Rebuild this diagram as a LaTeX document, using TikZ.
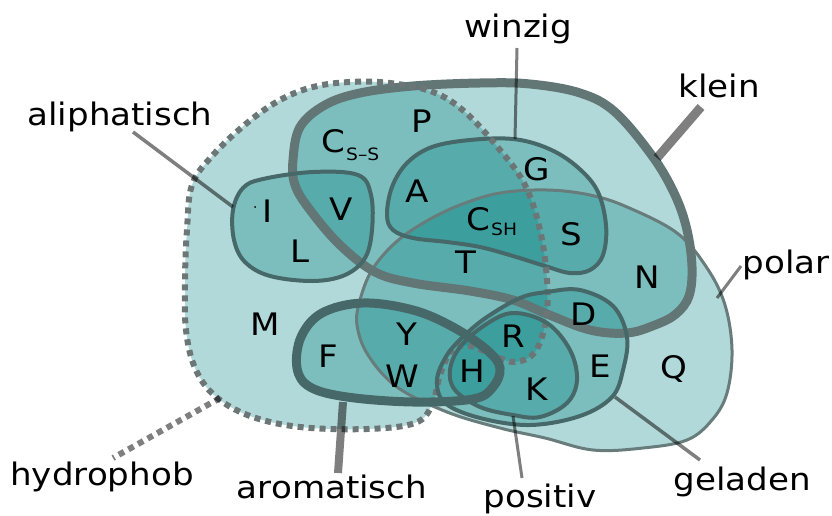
\documentclass[tikz,border=0pt]{standalone}
\usepackage{fontspec}
\setmainfont{DejaVu Sans}[FakeStretch=1.1]
\definecolor{kleincol}{RGB}{98,118,118}
\definecolor{darkcol}{RGB}{70,104,104}
\definecolor{polcol}{RGB}{104,124,124}
\definecolor{dotcol}{RGB}{108,118,118}
\tikzset{
  regionfill/.style={fill=teal, fill opacity=0.3},
  thickline/.style={line width=9pt},
  midline/.style={line width=4pt},
  thinline/.style={line width=3pt},
  dotline/.style={line width=6pt, dash pattern=on 6pt off 5pt},
  ptr/.style={draw=black, draw opacity=0.5},
  lab/.style={anchor=base, inner sep=0pt, font=\fontsize{31}{36}\selectfont},
  let/.style={anchor=base, inner sep=0pt, font=\fontsize{31}{36}\selectfont},
  sub/.style={anchor=base west, inner sep=0pt, font=\fontsize{17}{20}\selectfont}
}
\newcommand\hydpath{plot[smooth cycle, tension=0.6] coordinates {
 (192,185) (213,155) (247,123) (280,100) (313,87) (350,82) (390,83) (433,92)
 (465,112) (500,150) (525,185) (540,230) (547,280) (546,320) (535,352)
 (515,362) (495,356) (470,346) (452,350) (440,375) (432,405) (415,423)
 (367,429) (300,427) (250,416) (215,396) (195,368) (186,330) (185,280) (187,230)}}
\newcommand\polpath{plot[smooth cycle, tension=0.6] coordinates {
 (360,300) (372,270) (395,243) (425,222) (460,205) (500,193) (547,190) (590,195)
 (627,207) (677,233) (707,268) (725,305) (732,350) (727,393) (712,420) (687,440)
 (643,448) (593,450) (545,438) (500,428) (447,412) (397,387) (368,355) (357,325)}}
\newcommand\klepath{plot[smooth cycle, tension=0.6] coordinates {
 (293,160) (300,127) (325,105) (360,93) (413,86) (480,83) (530,84) (580,93)
 (615,112) (653,157) (675,195) (687,230) (692,267) (689,296) (676,314) (655,325)
 (627,333) (590,330) (547,314) (513,300) (470,291) (413,283) (375,272) (340,245)
 (310,210) (295,185)}}
\newcommand\winpath{plot[smooth cycle, tension=0.6] coordinates {
 (387,215) (392,187) (407,163) (432,147) (470,140) (513,139) (547,148) (575,165)
 (597,190) (606,225) (603,255) (590,270) (570,273) (545,266) (513,256) (480,247)
 (447,242) (413,238) (393,230)}}
\newcommand\alipath{plot[smooth cycle, tension=0.6] coordinates {
 (233,210) (243,188) (263,179) (313,172) (358,175) (371,195) (372,230) (365,258)
 (345,275) (313,281) (270,276) (245,262) (234,240)}}
\newcommand\aropath{plot[smooth cycle, tension=0.6] coordinates {
 (297,368) (301,337) (322,313) (363,303) (413,310) (453,327) (487,350) (500,368)
 (493,387) (473,399) (413,402) (347,397) (310,387)}}
\newcommand\gelpath{plot[smooth cycle, tension=0.6] coordinates {
 (520,298) (547,292) (580,290) (613,306) (627,337) (623,370) (612,397) (580,416)
 (530,425) (480,418) (445,403) (437,380) (447,355) (465,335) (487,317)}}
\newcommand\pospath{plot[smooth cycle, tension=0.6] coordinates {
 (513,313) (547,323) (570,350) (577,380) (567,403) (540,417) (513,415) (480,407)
 (455,390) (450,370) (460,347) (485,325)}}
\begin{document}
\begin{tikzpicture}[x=1pt,y=-1pt]
\useasboundingbox (0,0) rectangle (832,516);
% fills
\fill[regionfill] \hydpath;
\fill[regionfill] \polpath;
\fill[regionfill] \klepath;
\fill[regionfill] \winpath;
\fill[regionfill] \alipath;
\fill[regionfill] \aropath;
\fill[regionfill] \gelpath;
\fill[regionfill] \pospath;
% outlines
\draw[thinline, draw=polcol] \polpath;
\draw[thickline, draw=kleincol] \klepath;
\draw[midline, draw=darkcol] \winpath;
\draw[midline, draw=darkcol] \alipath;
\draw[dotline, draw=dotcol] \hydpath;
\draw[thickline, draw=darkcol] \aropath;
\draw[midline, draw=darkcol] \gelpath;
\draw[midline, draw=darkcol] \pospath;

% pointer anchors
\coordinate (pAli1) at (233,207); \coordinate (pAli2) at (133,132);
\coordinate (pWin1) at (515,139); \coordinate (pWin2) at (517,48);
\coordinate (pKle1) at (657,158); \coordinate (pKle2) at (701,107);
\coordinate (pPol1) at (717,298); \coordinate (pPol2) at (741,266);
\coordinate (pGel1) at (615,397); \coordinate (pGel2) at (700,460);
\coordinate (pPos1) at (513,416); \coordinate (pPos2) at (522,478);
\coordinate (pAro1) at (343,402); \coordinate (pAro2) at (338,473);
\coordinate (pHyd1) at (220,398); \coordinate (pHyd2) at (113,458);
\draw[ptr, line width=3.5pt] (pAli1) -- (pAli2);
\draw[ptr, line width=3pt] (pWin1) -- (pWin2);
\draw[ptr, line width=9pt] (pKle1) -- (pKle2);
\draw[ptr, line width=3pt] (pPol1) -- (pPol2);
\draw[ptr, line width=3.5pt] (pGel1) -- (pGel2);
\draw[ptr, line width=3pt] (pPos1) -- (pPos2);
\draw[ptr, line width=8pt] (pAro1) -- (pAro2);
\draw[ptr, dotline] (pHyd1) -- (pHyd2);

% labels
\node[lab] (lAli) at (120,125) {aliphatisch};
\node[lab] (lWin) at (518,38) {winzig};
\node[lab] (lKle) at (719,98) {klein};
\node[lab] (lPol) at (786,273) {polar};
\node[lab] (lGel) at (742,490) {geladen};
\node[lab] (lPos) at (540,507) {positiv};
\node[lab] (lAro) at (332,498) {aromatisch};
\node[lab] (lHyd) at (102,485) {hydrophob};

% amino acids
\node[let] (P) at (422,132) {P};
\node[let, anchor=base east] (Css) at (346,153) {C};
\node[sub] (Cssi) at ([yshift=-7pt]Css.base east) {S–S};
\node[let] (A) at (417,202) {A};
\node[let] (V) at (341,220) {V};
\node[let] (I) at (268,222) {I};
\fill (255,207) circle (1pt);
\node[let] (L) at (300,262) {L};
\node[let] (G) at (537,180) {G};
\node[let, anchor=base east] (Csh) at (491,230) {C};
\node[sub] (Cshi) at ([yshift=-5pt]Csh.base east) {SH};
\node[let] (S) at (571,245) {S};
\node[let] (T) at (466,273) {T};
\node[let] (N) at (647,288) {N};
\node[let] (D) at (584,325) {D};
\node[let] (E) at (600,377) {E};
\node[let] (Q) at (674,378) {Q};
\node[let] (M) at (265,335) {M};
\node[let] (Y) at (407,345) {Y};
\node[let] (F) at (328,367) {F};
\node[let] (W) at (402,387) {W};
\node[let] (R) at (513,347) {R};
\node[let] (H) at (472,382) {H};
\node[let] (K) at (537,400) {K};
\end{tikzpicture}
\end{document}
